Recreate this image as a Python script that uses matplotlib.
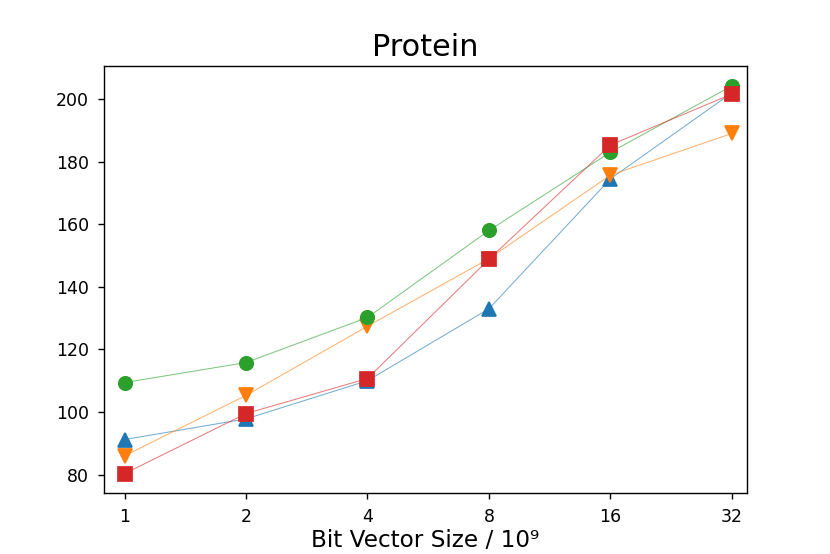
import numpy as np
import matplotlib
matplotlib.use('Agg')
import matplotlib.pyplot as plt

sizes = [1, 2, 4, 8, 16, 32]

blue = [91.2, 97.8, 110.0, 133.0, 174.5, 202.0]
orange = [86.0, 105.3, 127.4, 149.0, 175.7, 189.0]
green = [109.4, 115.8, 130.2, 158.0, 183.0, 204.2]
red = [80.3, 99.5, 110.7, 148.8, 185.3, 201.6]

series = [
    (blue, 'C0', '^'),
    (orange, 'C1', 'v'),
    (green, 'C2', 'o'),
    (red, 'C3', 's'),
]

# 830x554 px at 125 dpi
fig, ax = plt.subplots(figsize=(6.64, 4.432), dpi=125)

x = np.log2(sizes)
for vals, col, mk in series:
    ax.plot(x, vals, color=col, lw=0.6, alpha=0.6)
    ax.plot(x, vals, color=col, marker=mk, ls='none', markersize=7.7)

ax.set_xticks(x)
ax.set_xticklabels([str(s) for s in sizes])
ax.set_xlim(-0.171, 5.124)
ax.tick_params(pad=5)
ax.set_title('Protein', fontsize=17.5)
ax.set_xlabel('Bit Vector Size / 10\u2079', fontsize=13.3, labelpad=2)

fig.savefig('out.png')
